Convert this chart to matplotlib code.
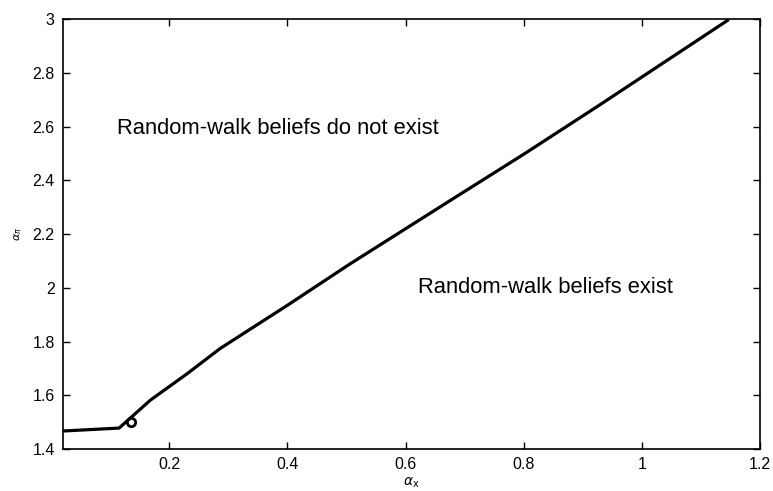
import matplotlib
matplotlib.use("Agg")
import matplotlib.pyplot as plt
from matplotlib.ticker import FuncFormatter

# boundary curve
alpha_x = [0.02, 0.115, 0.168, 0.230, 0.286, 0.400, 0.506, 0.675, 0.800, 0.929, 1.145]
alpha_pi = [1.467, 1.478, 1.582, 1.680, 1.774, 1.935, 2.089, 2.324, 2.497, 2.681, 2.995]

# the circled point
point_x = [0.135]
point_y = [1.50]

x_ticks = [0.2, 0.4, 0.6, 0.8, 1.0, 1.2]
y_ticks = [1.4, 1.6, 1.8, 2.0, 2.2, 2.4, 2.6, 2.8, 3.0]

plt.rcParams['font.family'] = ['Liberation Sans', 'DejaVu Sans']

fig = plt.figure(figsize=(7.73, 4.91), dpi=100)
ax = fig.add_axes([0.0815, 0.0855, 0.9015, 0.8755])

ax.plot(alpha_x, alpha_pi, color='black', linewidth=2.3)
ax.plot(point_x, point_y, 'o', markersize=6, markerfacecolor='none',
        markeredgecolor='black', markeredgewidth=2.0)

ax.set_xlim(0.02, 1.2)
ax.set_ylim(1.4, 3.0)
ax.set_xticks(x_ticks)
ax.set_yticks(y_ticks)
fmt = FuncFormatter(lambda v, p: '%g' % round(v, 2))
ax.xaxis.set_major_formatter(fmt)
ax.yaxis.set_major_formatter(fmt)
ax.tick_params(direction='in', top=True, right=True, length=5, width=1,
               labelsize=11.5, pad=6)
for s in ax.spines.values():
    s.set_linewidth(1.2)

ax.set_xlabel(r'$\alpha_{\mathrm{x}}$', fontsize=10, labelpad=2)
ax.set_ylabel(r'$\alpha_{\pi}$', fontsize=8, labelpad=6)

ax.text(0.112, 2.592, 'Random-walk beliefs do not exist', fontsize=15.8,
        ha='left', va='center')
ax.text(0.621, 2.001, 'Random-walk beliefs exist', fontsize=15.8,
        ha='left', va='center')

fig.savefig('out.png', dpi=100)
